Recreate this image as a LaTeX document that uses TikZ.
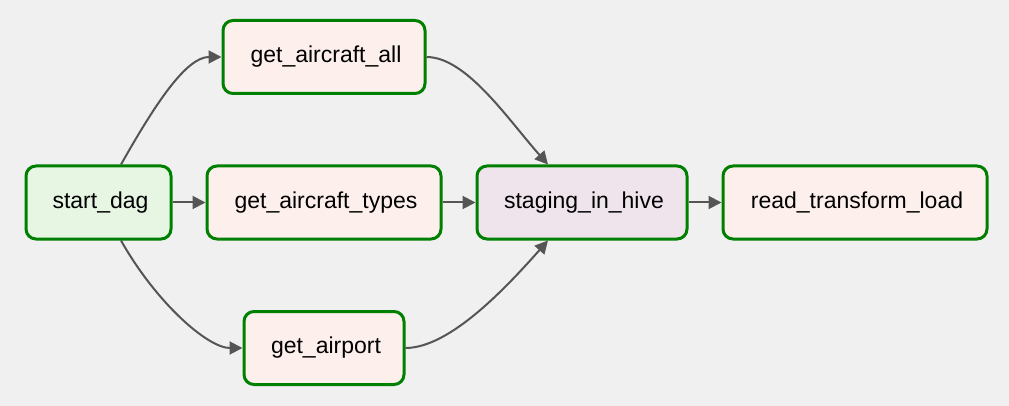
\documentclass[tikz,border=0pt]{standalone}
\usepackage{fontspec}
\setmainfont{Liberation Sans}
\usetikzlibrary{arrows.meta}
\definecolor{bg}{HTML}{F0F0F0}
\definecolor{taskgreen}{HTML}{008000}
\definecolor{startfill}{HTML}{E6F6E3}
\definecolor{taskfill}{HTML}{FDEFEB}
\definecolor{hivefill}{HTML}{EFE4EC}
\definecolor{edgegray}{HTML}{555555}
\tikzset{
  task/.style={draw=taskgreen, line width=3pt, rounded corners=10pt, minimum height=73pt,
    fill=taskfill, font=\fontsize{23}{26}\selectfont, inner sep=0pt, text=black},
  edge/.style={draw=edgegray, line width=2pt, -{Triangle[length=13pt,width=13pt]}}
}
\begin{document}
\begin{tikzpicture}[x=1pt,y=-1pt]
\fill[bg] (0,0) rectangle (1009,406);
\useasboundingbox (0,0) rectangle (1009,406);
\node[task, fill=startfill, minimum width=145pt] (sd) at (98.5,202.5) {\raisebox{-2pt}{\hspace{4pt}start\_dag}};
\node[task, minimum width=202pt] (ga) at (324,57) {\raisebox{-2pt}{\hspace{4pt}get\_aircraft\_all}};
\node[task, minimum width=234pt] (gt) at (324,202.5) {\raisebox{-2pt}{\hspace{4pt}get\_aircraft\_types}};
\node[task, minimum width=160pt] (gp) at (324,348) {\raisebox{-2pt}{\hspace{4pt}get\_airport}};
\node[task, fill=hivefill, minimum width=210pt] (sh) at (582,202.5) {\raisebox{-2pt}{\hspace{4pt}staging\_in\_hive}};
\node[task, minimum width=264pt] (rt) at (855,202.5) {\raisebox{-2pt}{\hspace{4pt}read\_transform\_load}};

\draw[edge] ([xshift=22.5pt]sd.north) .. controls +(35,-62) and +(-35,0) .. (ga.west);
\draw[edge] ([xshift=22.5pt]sd.south) .. controls +(35,62) and +(-35,0) .. (gp.west);
\draw[edge] (sd.east) -- (gt.west);
\draw[edge] (gt.east) -- (sh.west);
\draw[edge] (sh.east) -- (rt.west);
\draw[edge] (ga.east) .. controls +(40,0) and +(-40,-45) .. ([xshift=-34pt]sh.north);
\draw[edge] (gp.east) .. controls +(45,0) and +(-40,45) .. ([xshift=-34pt]sh.south);
\end{tikzpicture}
\end{document}
